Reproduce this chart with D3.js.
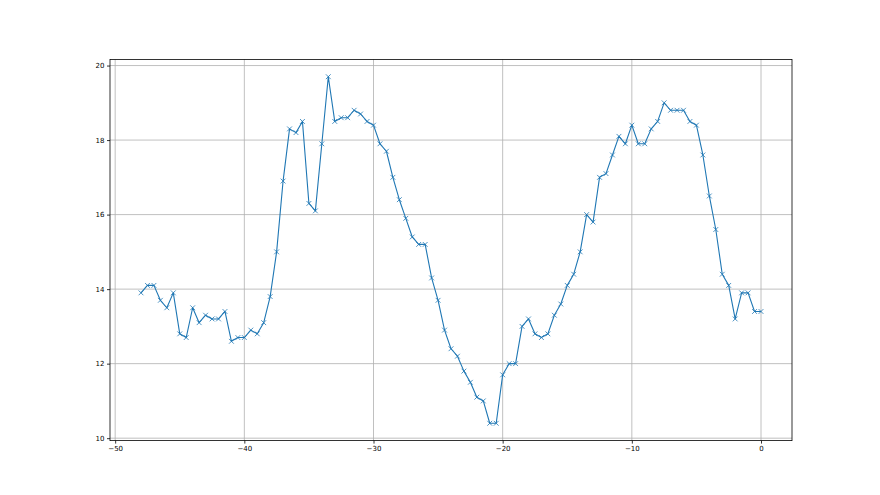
<!DOCTYPE html>
<html>
<head>
<meta charset="utf-8">
<script src="https://cdn.jsdelivr.net/npm/d3@7"></script>
<style>
  body { margin: 0; background: #fff; }
  svg { display: block; }
  .tick text { font-family: "DejaVu Sans", sans-serif; font-size: 7px; fill: #000; }
</style>
</head>
<body>
<div id="chart"></div>
<script>
// x runs from -48 to 0 in half steps
let xValues = [
    -48, -47.5, -47, -46.5, -46, -45.5, -45, -44.5, -44, -43.5,
    -43, -42.5, -42, -41.5, -41, -40.5, -40, -39.5, -39, -38.5,
    -38, -37.5, -37, -36.5, -36, -35.5, -35, -34.5, -34, -33.5,
    -33, -32.5, -32, -31.5, -31, -30.5, -30, -29.5, -29, -28.5,
    -28, -27.5, -27, -26.5, -26, -25.5, -25, -24.5, -24, -23.5,
    -23, -22.5, -22, -21.5, -21, -20.5, -20, -19.5, -19, -18.5,
    -18, -17.5, -17, -16.5, -16, -15.5, -15, -14.5, -14, -13.5,
    -13, -12.5, -12, -11.5, -11, -10.5, -10, -9.5, -9, -8.5,
    -8, -7.5, -7, -6.5, -6, -5.5, -5, -4.5, -4, -3.5,
    -3, -2.5, -2, -1.5, -1, -0.5, 0
];
let yValues = [
    13.9, 14.1, 14.1, 13.7, 13.5, 13.9, 12.8, 12.7, 13.5, 13.1,
    13.3, 13.2, 13.2, 13.4, 12.6, 12.7, 12.7, 12.9, 12.8, 13.1,
    13.8, 15.0, 16.9, 18.3, 18.2, 18.5, 16.3, 16.1, 17.9, 19.7,
    18.5, 18.6, 18.6, 18.8, 18.7, 18.5, 18.4, 17.9, 17.7, 17.0,
    16.4, 15.9, 15.4, 15.2, 15.2, 14.3, 13.7, 12.9, 12.4, 12.2,
    11.8, 11.5, 11.1, 11.0, 10.4, 10.4, 11.7, 12.0, 12.0, 13.0,
    13.2, 12.8, 12.7, 12.8, 13.3, 13.6, 14.1, 14.4, 15.0, 16.0,
    15.8, 17.0, 17.1, 17.6, 18.1, 17.9, 18.4, 17.9, 17.9, 18.3,
    18.5, 19.0, 18.8, 18.8, 18.8, 18.5, 18.4, 17.6, 16.5, 15.6,
    14.4, 14.1, 13.2, 13.9, 13.9, 13.4, 13.4
];
let xTicks = [-50, -40, -30, -20, -10, 0];
let yTicks = [10, 12, 14, 16, 18, 20];

let width = 880, height = 495;
let plotLeft = 110, plotRight = 792, plotTop = 59.4, plotBottom = 440.6;
let lineColor = "#1f77b4";

let points = xValues.map((x, i) => ({x: x, y: yValues[i]}));

// matplotlib style 5% margins around the data
let xExt = d3.extent(xValues), yExt = d3.extent(yValues);
let xPad = (xExt[1] - xExt[0]) * 0.05, yPad = (yExt[1] - yExt[0]) * 0.05;
let xScale = d3.scaleLinear().domain([xExt[0] - xPad, xExt[1] + xPad]).range([plotLeft, plotRight]);
let yScale = d3.scaleLinear().domain([yExt[0] - yPad, yExt[1] + yPad]).range([plotBottom, plotTop]);

let svg = d3.select("#chart").append("svg").attr("width", width).attr("height", height);

//Grid lines
let grid = svg.append("g");
grid.selectAll(".vgrid").data(xTicks).enter().append("line")
    .attr("x1", d => xScale(d)).attr("x2", d => xScale(d))
    .attr("y1", plotTop).attr("y2", plotBottom)
    .attr("stroke", "#b0b0b0").attr("stroke-width", 0.8);
grid.selectAll(".hgrid").data(yTicks).enter().append("line")
    .attr("x1", plotLeft).attr("x2", plotRight)
    .attr("y1", d => yScale(d)).attr("y2", d => yScale(d))
    .attr("stroke", "#b0b0b0").attr("stroke-width", 0.8);

//Axes
let fmt = d => d < 0 ? "\u2212" + Math.abs(d) : String(d);
let xAxis = svg.append("g").attr("transform", `translate(0, ${plotBottom})`)
    .call(d3.axisBottom(xScale).tickValues(xTicks).tickFormat(fmt).tickSizeInner(3).tickSizeOuter(0).tickPadding(2.5));
let yAxis = svg.append("g").attr("transform", `translate(${plotLeft}, 0)`)
    .call(d3.axisLeft(yScale).tickValues(yTicks).tickFormat(fmt).tickSizeInner(3).tickSizeOuter(0).tickPadding(2.5));
[xAxis, yAxis].forEach(a => {
    a.select(".domain").remove();
    a.selectAll(".tick line").attr("stroke", "#000").attr("stroke-width", 0.8);
});

//Frame
svg.append("rect").attr("x", plotLeft).attr("y", plotTop)
    .attr("width", plotRight - plotLeft).attr("height", plotBottom - plotTop)
    .attr("fill", "none").attr("stroke", "#000").attr("stroke-width", 0.8);

//Series line
let line = d3.line().x(d => xScale(d.x)).y(d => yScale(d.y));
svg.append("path").datum(points)
    .attr("d", line)
    .attr("fill", "none").attr("stroke", lineColor).attr("stroke-width", 1.1)
    .attr("stroke-linejoin", "round");

//x markers
let m = 2.4;
let markers = svg.append("g").selectAll("g").data(points).enter().append("g")
    .attr("transform", d => `translate(${xScale(d.x)}, ${yScale(d.y)})`);
markers.append("path")
    .attr("d", `M${-m},${-m}L${m},${m}M${-m},${m}L${m},${-m}`)
    .attr("stroke", lineColor).attr("stroke-width", 0.8).attr("fill", "none");
</script>
</body>
</html>
